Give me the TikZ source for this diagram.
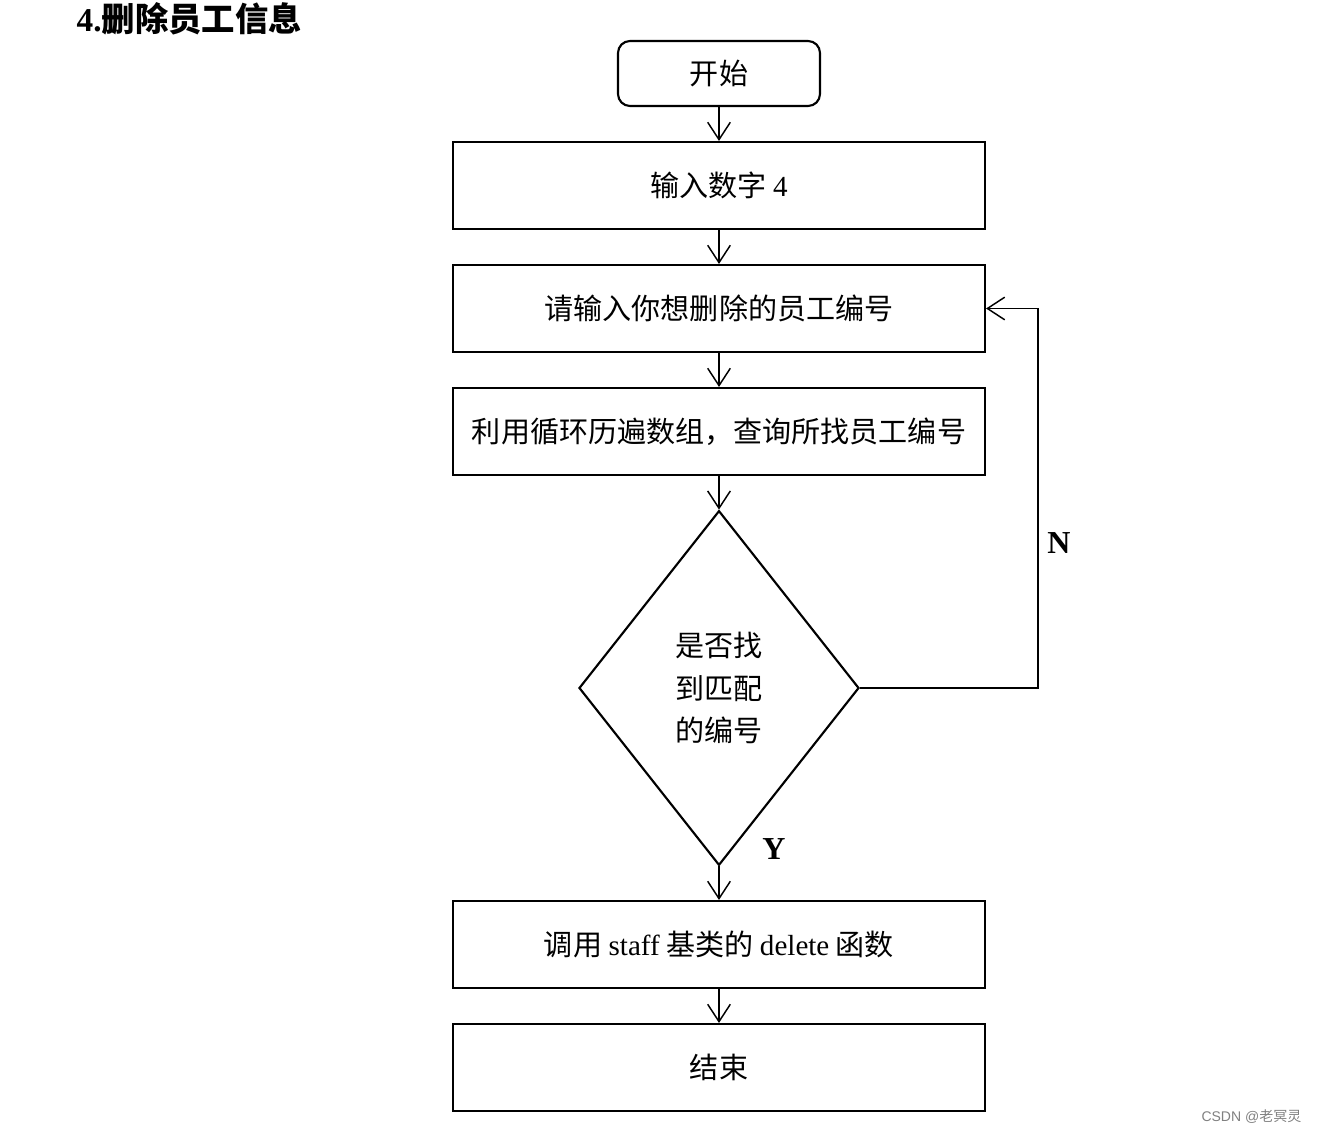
\documentclass[tikz,border=0pt]{standalone}
\usepackage{fontspec}
\setmainfont{Liberation Serif}
\setsansfont{Liberation Sans}
\newfontfamily\cjk{Noto Sans CJK SC}
\usetikzlibrary{shapes.geometric,arrows.meta}
\begin{document}
\begin{tikzpicture}[x=0.75pt,y=-0.75pt,
  every node/.style={font=\fontsize{21.8}{32}\selectfont\cjk, text=black},
  procbox/.style={draw=black, line width=1.6pt, minimum width=399pt, minimum height=65.25pt, inner sep=0pt},
  startbox/.style={draw=black, line width=1.6pt, rounded corners=9pt, minimum width=151.5pt, minimum height=48.75pt, inner sep=0pt},
  decbox/.style={draw=black, line width=1.6pt, diamond, minimum width=210pt, minimum height=266pt, inner sep=0pt, align=center},
  flow/.style={draw=black, line width=1.1pt, -{Straight Barb[length=13pt,width=17pt,line width=1.1pt]}},
  lbl/.style={font=\fontsize{24}{28}\selectfont\rmfamily\bfseries}
]
\useasboundingbox (0,0) rectangle (1321,1134);
\node[anchor=west, font=\fontsize{25}{29}\selectfont] (title) at (72,19) {\textbf{\rmfamily 4.}{\cjk\bfseries 删除员工信息}};
\node[startbox] (start) at (719,73.5) {开始};
\node[procbox] (b1) at (719,185.5) {输入数字 {\rmfamily 4}};
\node[procbox] (b2) at (719,308.5) {请输入你想删除的员工编号};
\node[procbox] (b3) at (719,431.5) {利用循环历遍数组，查询所找员工编号};
\node[decbox] (d) at (719,688) {是否找\\到匹配\\的编号};
\node[procbox] (b4) at (719,944.5) {调用 {\rmfamily staff} 基类的 {\rmfamily delete} 函数};
\node[procbox] (b5) at (719,1067.5) {结束};
\coordinate (c1) at (1038,688);
\coordinate (c2) at (1038,308.5);
\draw[flow] (start) -- (b1);
\draw[flow] (b1) -- (b2);
\draw[flow] (b2) -- (b3);
\draw[flow] (b3) -- (d.north);
\draw[flow] (d.south) -- (b4);
\draw[flow] (b4) -- (b5);
\draw[flow] (d.east) -- (c1) -- (c2) -- (b2.east);
\node[lbl] (N) at (1059,543) {N};
\node[lbl] (Y) at (774,849) {Y};
\node[anchor=east, font=\fontsize{10.5}{12}\selectfont, text=gray] (wm) at (1306,1117) {{\sffamily CSDN @}{\cjk 老冥灵}};
\end{tikzpicture}
\end{document}
